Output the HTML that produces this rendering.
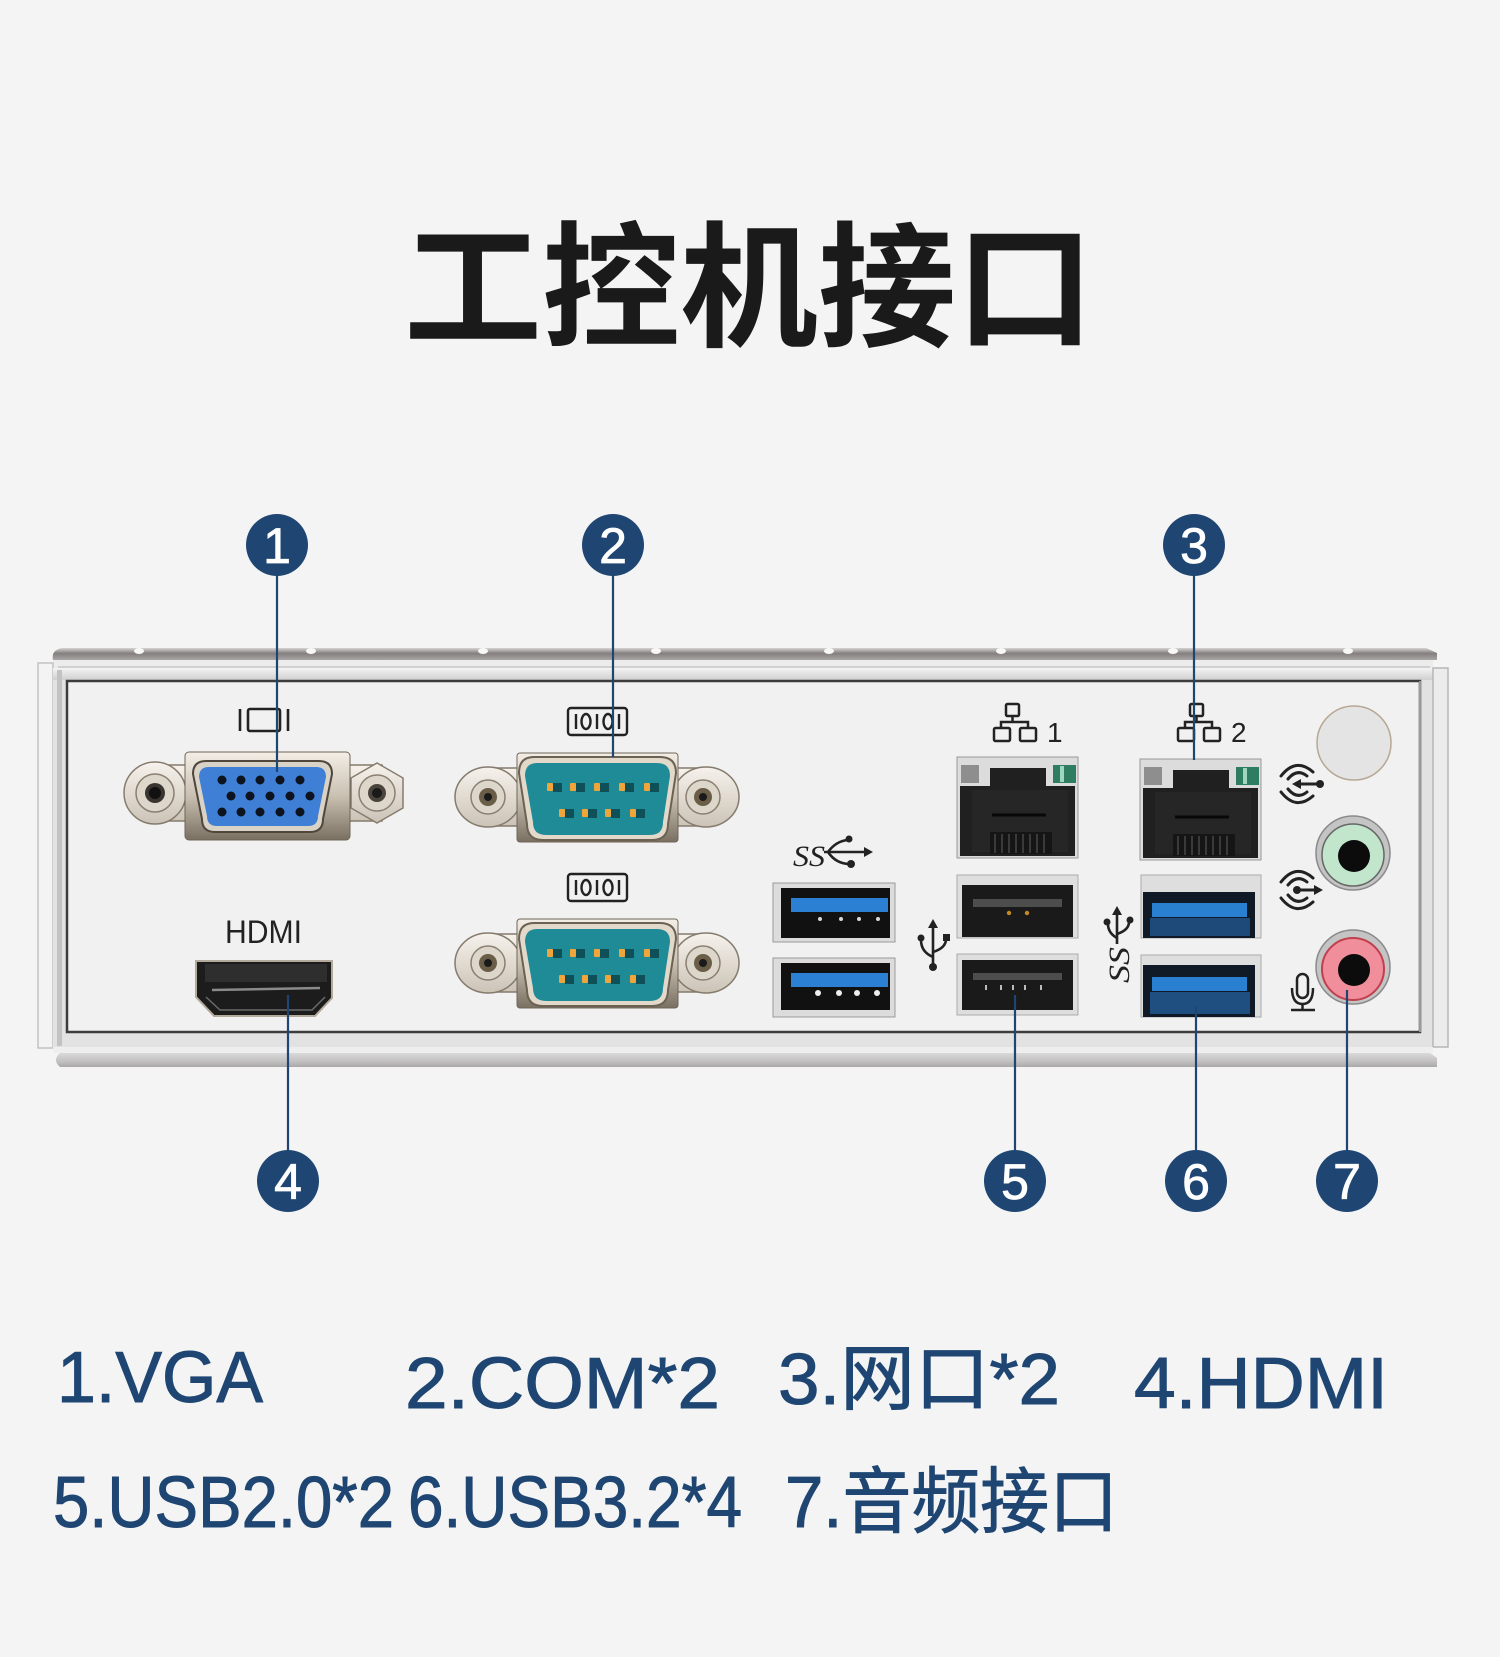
<!DOCTYPE html>
<html><head><meta charset="utf-8"><style>
html,body{margin:0;padding:0;background:#f4f4f4}
svg{display:block}
</style></head><body>
<svg width="1500" height="1657" viewBox="0 0 1500 1657" xmlns="http://www.w3.org/2000/svg">
<defs>
<linearGradient id="rail" x1="0" y1="0" x2="0" y2="1"><stop offset="0" stop-color="#d6d3d3"/><stop offset="0.45" stop-color="#847f7f"/><stop offset="1" stop-color="#aaa6a6"/></linearGradient>
<linearGradient id="brail" x1="0" y1="0" x2="0" y2="1"><stop offset="0" stop-color="#d9d9d9"/><stop offset="0.6" stop-color="#c2c0c0"/><stop offset="1" stop-color="#aaa8a8"/></linearGradient>
<linearGradient id="ftop" x1="0" y1="0" x2="0" y2="1"><stop offset="0" stop-color="#f4f4f4"/><stop offset="1" stop-color="#cfcfcf"/></linearGradient>
<linearGradient id="chrome" x1="0" y1="0" x2="0" y2="1"><stop offset="0" stop-color="#f3eee6"/><stop offset="0.5" stop-color="#c9c0b2"/><stop offset="1" stop-color="#7a7062"/></linearGradient>
<linearGradient id="ear" x1="0" y1="0" x2="0" y2="1"><stop offset="0" stop-color="#f6f2ec"/><stop offset="1" stop-color="#cbc3b6"/></linearGradient>
</defs>
<rect width="1500" height="1657" fill="#f4f4f4"/>

<!-- Title -->
<text x="404" y="336" font-family="'Liberation Sans','Noto Sans CJK SC',sans-serif" font-weight="700" font-size="136" fill="#1a1a1a" textLength="690" lengthAdjust="spacingAndGlyphs">工控机接口</text>

<!-- Panel -->
<path d="M62,648 L1426,648 L1437,653 L1437,660 L53,660 Q51,650 62,648 Z" fill="url(#rail)"/>
<g fill="#f8f8f8">
<ellipse cx="139" cy="651" rx="5" ry="3"/><ellipse cx="311" cy="651" rx="5" ry="3"/><ellipse cx="483" cy="651" rx="5" ry="3"/><ellipse cx="656" cy="651" rx="5" ry="3"/><ellipse cx="829" cy="651" rx="5" ry="3"/><ellipse cx="1001" cy="651" rx="5" ry="3"/><ellipse cx="1173" cy="651" rx="5" ry="3"/><ellipse cx="1348" cy="651" rx="5" ry="3"/>
</g>
<rect x="53" y="660" width="1380" height="8" fill="#ececec"/>
<line x1="58" y1="667" x2="1430" y2="667" stroke="#c6c6c6" stroke-width="1.5"/>
<rect x="38" y="663" width="15" height="385" fill="#f3f3f3" stroke="#c2c2c2" stroke-width="1.5"/>
<rect x="53" y="668" width="1380" height="380" fill="#e2e2e2"/>
<rect x="53" y="668" width="1380" height="12" fill="url(#ftop)"/>
<rect x="57" y="670" width="5" height="376" fill="#c2c2c2"/>
<rect x="67" y="681" width="1353" height="351" fill="#f1f1f1" stroke="#3c3c3c" stroke-width="2.5"/>
<line x1="1420" y1="681" x2="1420" y2="1032" stroke="#9a9a9a" stroke-width="2"/>
<rect x="1433" y="668" width="15" height="379" fill="#ececec" stroke="#b6b6b6" stroke-width="1.5"/>
<rect x="53" y="1047" width="1380" height="6" fill="#eeeeee"/>
<path d="M60,1053 L1430,1053 L1437,1058 L1437,1067 L60,1067 Q52,1060 60,1053 Z" fill="url(#brail)"/>

<!-- VGA icon -->
<g stroke="#222" stroke-width="2.6" fill="none">
<line x1="240" y1="709" x2="240" y2="731"/><line x1="288" y1="709" x2="288" y2="731"/>
<rect x="248" y="709" width="32" height="22" rx="2"/>
</g>
<!-- VGA connector -->
<g>
<rect x="150" y="765" width="232" height="56" fill="url(#ear)" stroke="#857b6d" stroke-width="1.5"/>
<circle cx="155" cy="793" r="31" fill="url(#ear)" stroke="#857b6d" stroke-width="1.5"/>
<polygon points="377,763 403,778 403,808 377,823 351,808 351,778" fill="url(#ear)" stroke="#857b6d" stroke-width="1.5"/>
<circle cx="155" cy="793" r="19" fill="#ddd6ca" stroke="#8a7f70" stroke-width="1.5"/>
<circle cx="155" cy="793" r="10" fill="#3a342e"/><circle cx="155" cy="793" r="6" fill="#111"/>
<circle cx="377" cy="793" r="18" fill="#ddd6ca" stroke="#8a7f70" stroke-width="1.5"/>
<circle cx="377" cy="793" r="9" fill="#4a443c"/><circle cx="377" cy="793" r="5" fill="#1a1a1a"/>
<rect x="185" y="752" width="165" height="88" rx="4" fill="url(#chrome)" stroke="#6e6557" stroke-width="1"/>
<path d="M206,761 L319,761 Q332,761 332,774 L323,819 Q323,832 310,832 L215,832 Q202,832 202,819 L193,774 Q193,761 206,761 Z" fill="#d9d2c6" stroke="#4f473b" stroke-width="2"/>
<path d="M209,767 L316,767 Q326,767 326,777 L318,816 Q318,826 308,826 L217,826 Q207,826 207,816 L199,777 Q199,767 209,767 Z" fill="#3f80d6"/>
<g fill="#0d1420">
<circle cx="222" cy="780" r="4.5"/><circle cx="241" cy="780" r="4.5"/><circle cx="260" cy="780" r="4.5"/><circle cx="280" cy="780" r="4.5"/><circle cx="300" cy="780" r="4.5"/>
<circle cx="231" cy="796" r="4.5"/><circle cx="250" cy="796" r="4.5"/><circle cx="270" cy="796" r="4.5"/><circle cx="290" cy="796" r="4.5"/><circle cx="310" cy="796" r="4.5"/>
<circle cx="222" cy="812" r="4.5"/><circle cx="241" cy="812" r="4.5"/><circle cx="260" cy="812" r="4.5"/><circle cx="280" cy="812" r="4.5"/><circle cx="300" cy="812" r="4.5"/>
</g>
</g>

<!-- HDMI -->
<text x="225" y="943" font-family="'Liberation Sans',sans-serif" font-size="32" fill="#222" textLength="77" lengthAdjust="spacingAndGlyphs">HDMI</text>
<path d="M196,961 L332,961 L332,998 L315,1016 L214,1016 L196,997 Z" fill="#1c1c1c" stroke="#b3aa9b" stroke-width="2"/>
<rect x="205" y="964" width="122" height="18" fill="#2e2e2e"/>
<path d="M212,990 L320,988" stroke="#8a8a8a" stroke-width="2.5"/>
<path d="M206,997 L220,1010 L312,1010 L325,997" fill="none" stroke="#6a6a6a" stroke-width="1.5"/>

<!-- COM ports -->
<g id="com1">
<g stroke="#222" stroke-width="2.4" fill="none">
<rect x="568" y="708" width="59" height="27" rx="3"/>
<line x1="576" y1="714" x2="576" y2="729"/><ellipse cx="586" cy="721.5" rx="4.5" ry="7.5"/><line x1="597" y1="714" x2="597" y2="729"/><ellipse cx="608" cy="721.5" rx="4.5" ry="7.5"/><line x1="619" y1="714" x2="619" y2="729"/>
</g>
<rect x="485" y="768" width="225" height="58" fill="url(#ear)" stroke="#857b6d" stroke-width="1.5"/>
<ellipse cx="488" cy="797" rx="33" ry="30" fill="url(#ear)" stroke="#857b6d" stroke-width="1.5"/>
<ellipse cx="706" cy="797" rx="33" ry="30" fill="url(#ear)" stroke="#857b6d" stroke-width="1.5"/>
<circle cx="488" cy="797" r="17" fill="#ddd6ca" stroke="#8a7f70" stroke-width="1.5"/>
<circle cx="488" cy="797" r="9" fill="#6a5e48"/><circle cx="488" cy="797" r="4" fill="#1a1a1a"/>
<circle cx="703" cy="797" r="17" fill="#ddd6ca" stroke="#8a7f70" stroke-width="1.5"/>
<circle cx="703" cy="797" r="9" fill="#6a5e48"/><circle cx="703" cy="797" r="4" fill="#1a1a1a"/>
<rect x="517" y="753" width="161" height="89" rx="3" fill="url(#chrome)" stroke="#6e6557" stroke-width="1"/>
<path d="M534,757 L660,757 Q676,757 676,773 L668,824 Q668,840 652,840 L543,840 Q527,840 527,824 L519,773 Q519,757 534,757 Z" fill="#e2d9cb" stroke="#6b6254" stroke-width="2"/>
<path d="M537,763 L657,763 Q670,763 670,776 L663,822 Q663,835 650,835 L546,835 Q533,835 533,822 L525,776 Q525,763 537,763 Z" fill="#1f8b97"/>
<g fill="#0f4f57">
<rect x="553" y="783" width="9" height="9"/><rect x="576" y="783" width="9" height="9"/><rect x="600" y="783" width="9" height="9"/><rect x="625" y="783" width="9" height="9"/><rect x="650" y="783" width="9" height="9"/>
<rect x="565" y="809" width="9" height="9"/><rect x="588" y="809" width="9" height="9"/><rect x="611" y="809" width="9" height="9"/><rect x="636" y="809" width="9" height="9"/>
</g>
<g fill="#f0a53a">
<rect x="547" y="783" width="6" height="8" rx="1"/><rect x="570" y="783" width="6" height="8" rx="1"/><rect x="594" y="783" width="6" height="8" rx="1"/><rect x="619" y="783" width="6" height="8" rx="1"/><rect x="644" y="783" width="6" height="8" rx="1"/>
<rect x="559" y="809" width="6" height="8" rx="1"/><rect x="582" y="809" width="6" height="8" rx="1"/><rect x="605" y="809" width="6" height="8" rx="1"/><rect x="630" y="809" width="6" height="8" rx="1"/>
</g>
</g>
<use href="#com1" transform="translate(0,166)"/>

<!-- SS icon left -->
<text x="793" y="866" font-family="'Liberation Serif',serif" font-style="italic" font-size="30" fill="#222" textLength="32" lengthAdjust="spacingAndGlyphs">SS</text>
<g stroke="#222" stroke-width="2.6" fill="none">
<path d="M824,852 L866,852"/><path d="M828,852 Q836,841 848,840"/><path d="M828,852 Q836,864 850,864"/>
</g>
<polygon points="873,852 864,847 864,857" fill="#222"/>
<circle cx="849" cy="839" r="3.5" fill="#222"/><circle cx="851" cy="864" r="4" fill="#222"/>

<!-- USB3 left -->
<rect x="773" y="883" width="122" height="59" fill="#dcdcdc" stroke="#9a9a9a"/>
<rect x="781" y="888" width="109" height="50" fill="#111"/>
<rect x="791" y="898" width="97" height="14" fill="#2c80d3"/>
<g fill="#d8d8d8"><circle cx="820" cy="919" r="2"/><circle cx="841" cy="919" r="2"/><circle cx="859" cy="919" r="2"/><circle cx="878" cy="919" r="2"/></g>
<rect x="773" y="958" width="122" height="59" fill="#dcdcdc" stroke="#9a9a9a"/>
<rect x="781" y="963" width="109" height="47" fill="#111"/>
<rect x="791" y="973" width="97" height="14" fill="#2c80d3"/>
<g fill="#eee"><circle cx="818" cy="993" r="3"/><circle cx="839" cy="993" r="3"/><circle cx="857" cy="993" r="3"/><circle cx="877" cy="993" r="3"/></g>

<!-- USB trident -->
<g stroke="#222" stroke-width="2.6" fill="none">
<line x1="933" y1="926" x2="933" y2="964"/>
<path d="M933,957 Q921,952 921,940"/><path d="M933,952 Q946,948 946,939"/>
</g>
<polygon points="933,919 928,928 938,928" fill="#222"/>
<circle cx="933" cy="967" r="4" fill="#222"/><circle cx="921" cy="938" r="3.5" fill="#222"/><rect x="943" y="934" width="7" height="7" fill="#222"/>

<!-- LAN1 icon -->
<g stroke="#222" stroke-width="2.5" fill="none">
<rect x="1006" y="704" width="13" height="12" rx="1.5"/>
<line x1="1012.5" y1="716" x2="1012.5" y2="722"/>
<path d="M1001,728 L1001,722 L1028,722 L1028,728"/>
<rect x="994" y="728" width="16" height="13" rx="1.5"/><rect x="1020" y="728" width="16" height="13" rx="1.5"/>
</g>
<text x="1047" y="742" font-family="'Liberation Sans',sans-serif" font-size="28" fill="#222">1</text>
<!-- LAN2 icon -->
<g transform="translate(184,0)">
<g stroke="#222" stroke-width="2.5" fill="none">
<rect x="1006" y="704" width="13" height="12" rx="1.5"/>
<line x1="1012.5" y1="716" x2="1012.5" y2="722"/>
<path d="M1001,728 L1001,722 L1028,722 L1028,728"/>
<rect x="994" y="728" width="16" height="13" rx="1.5"/><rect x="1020" y="728" width="16" height="13" rx="1.5"/>
</g>
<text x="1047" y="742" font-family="'Liberation Sans',sans-serif" font-size="28" fill="#222">2</text>
</g>

<!-- LAN ports -->
<g id="lan1">
<rect x="957" y="757" width="121" height="101" fill="#dcdcdc" stroke="#999"/>
<rect x="961" y="765" width="18" height="18" fill="#8e8e8e"/>
<rect x="1053" y="765" width="23" height="18" fill="#2e7d62"/><rect x="1060" y="766" width="4" height="16" fill="#9fd6c0"/>
<path d="M960,786 L990,786 L990,768 L1046,768 L1046,786 L1075,786 L1075,856 L960,856 Z" fill="#202020"/>
<rect x="972" y="790" width="96" height="62" fill="#262626"/>
<line x1="992" y1="815" x2="1046" y2="815" stroke="#080808" stroke-width="3"/>
<rect x="990" y="832" width="62" height="22" fill="#151515"/>
<g stroke="#3a3a3a" stroke-width="2">
<line x1="995" y1="834" x2="995" y2="853"/><line x1="1002" y1="834" x2="1002" y2="853"/><line x1="1009" y1="834" x2="1009" y2="853"/><line x1="1016" y1="834" x2="1016" y2="853"/><line x1="1023" y1="834" x2="1023" y2="853"/><line x1="1030" y1="834" x2="1030" y2="853"/><line x1="1037" y1="834" x2="1037" y2="853"/><line x1="1044" y1="834" x2="1044" y2="853"/>
</g>
</g>
<use href="#lan1" transform="translate(183,2)"/>

<!-- USB2 ports -->
<rect x="957" y="875" width="121" height="63" fill="#dedede" stroke="#aaa"/>
<rect x="962" y="885" width="111" height="52" fill="#1a1a1a"/>
<rect x="973" y="899" width="89" height="8" fill="#4d4d4d"/>
<circle cx="1009" cy="913" r="2.2" fill="#c58a25"/><circle cx="1027" cy="913" r="2.2" fill="#c58a25"/>
<rect x="957" y="954" width="121" height="61" fill="#dedede" stroke="#aaa"/>
<rect x="962" y="960" width="111" height="50" fill="#1a1a1a"/>
<rect x="973" y="973" width="89" height="7" fill="#4d4d4d"/>
<g fill="#bbb"><rect x="985" y="985" width="2" height="5"/><rect x="1000" y="985" width="2" height="5"/><rect x="1012" y="985" width="2" height="5"/><rect x="1024" y="985" width="2" height="5"/><rect x="1040" y="985" width="2" height="5"/></g>

<!-- USB3 right -->
<rect x="1141" y="875" width="120" height="63" fill="#dedede" stroke="#aaa"/>
<rect x="1143" y="892" width="112" height="46" fill="#0f1a26"/>
<rect x="1152" y="903" width="95" height="14" fill="#2a80d0"/>
<rect x="1150" y="918" width="100" height="18" fill="#1d4a78"/>
<rect x="1141" y="955" width="120" height="62" fill="#dedede" stroke="#aaa"/>
<rect x="1143" y="965" width="112" height="52" fill="#0f1a26"/>
<rect x="1152" y="977" width="95" height="14" fill="#2a80d0"/>
<rect x="1150" y="992" width="100" height="22" fill="#1e4f80"/>

<!-- SS vertical icon -->
<g stroke="#222" stroke-width="2.6" fill="none">
<line x1="1117" y1="912" x2="1117" y2="944"/>
<path d="M1117,938 Q1108,933 1108,924"/><path d="M1117,934 Q1129,930 1129,922"/>
</g>
<polygon points="1117,906 1112,915 1122,915" fill="#222"/>
<circle cx="1107" cy="922" r="3.5" fill="#222"/><circle cx="1130" cy="920" r="3.5" fill="#222"/>
<text transform="translate(1129,983) rotate(-90)" font-family="'Liberation Serif',serif" font-style="italic" font-size="30" fill="#222" textLength="36" lengthAdjust="spacingAndGlyphs">SS</text>

<!-- Audio -->
<circle cx="1354" cy="743" r="37" fill="#e4e4e4" stroke="#b7a793" stroke-width="1.5"/>
<circle cx="1353" cy="853" r="37" fill="#c4c4c4" stroke="#8a8a8a" stroke-width="1.5"/>
<circle cx="1353" cy="855" r="31" fill="#c2e6cb" stroke="#666" stroke-width="1.5"/>
<circle cx="1354" cy="856" r="16" fill="#0c0c0c"/>
<circle cx="1353" cy="967" r="37" fill="#c4c4c4" stroke="#8a8a8a" stroke-width="1.5"/>
<circle cx="1353" cy="969" r="31" fill="#f08e9c" stroke="#c0404e" stroke-width="2"/>
<circle cx="1354" cy="970" r="16" fill="#0c0c0c"/>
<g stroke="#222" stroke-width="3" fill="none" stroke-linecap="round">
<path d="M1281,776 Q1296,757 1313,772"/><path d="M1288,779 Q1297,768 1307,776"/>
<path d="M1281,792 Q1296,811 1313,796"/><path d="M1288,789 Q1297,800 1307,792"/>
<line x1="1298" y1="784" x2="1318" y2="784"/>
<path d="M1281,882 Q1296,863 1313,878"/><path d="M1288,885 Q1297,874 1307,882"/>
<path d="M1281,898 Q1296,917 1313,902"/><path d="M1288,895 Q1297,906 1307,898"/>
<line x1="1297" y1="890" x2="1316" y2="890"/>
</g>
<polygon points="1292,784 1301,779 1301,789" fill="#222"/><circle cx="1320" cy="784" r="4" fill="#222"/>
<polygon points="1323,890 1314,885 1314,895" fill="#222"/><circle cx="1297" cy="890" r="4" fill="#222"/>
<g stroke="#222" stroke-width="2.5" fill="none">
<rect x="1297" y="974" width="11" height="24" rx="5.5"/>
<path d="M1292,988 Q1292,1004 1302.5,1004 Q1313,1004 1313,988"/>
<line x1="1302.5" y1="1004" x2="1302.5" y2="1009"/>
<line x1="1291" y1="1010" x2="1315" y2="1010"/>
</g>

<!-- Callout lines -->
<g stroke="#1f4672" stroke-width="2.2">
<line x1="277" y1="570" x2="277" y2="772"/>
<line x1="613" y1="570" x2="613" y2="757"/>
<line x1="1194" y1="570" x2="1194" y2="760"/>
<line x1="288" y1="995" x2="288" y2="1155"/>
<line x1="1015" y1="995" x2="1015" y2="1155"/>
<line x1="1196" y1="1007" x2="1196" y2="1155"/>
<line x1="1347" y1="990" x2="1347" y2="1155"/>
</g>
<!-- Number circles -->
<g fill="#1f4672">
<circle cx="277" cy="545" r="31"/><circle cx="613" cy="545" r="31"/><circle cx="1194" cy="545" r="31"/>
<circle cx="288" cy="1181" r="31"/><circle cx="1015" cy="1181" r="31"/><circle cx="1196" cy="1181" r="31"/><circle cx="1347" cy="1181" r="31"/>
</g>
<g fill="#fff" stroke="#fff" stroke-width="0.8" font-family="'Liberation Sans',sans-serif" font-size="50" text-anchor="middle">
<text x="277" y="563">1</text><text x="613" y="563">2</text><text x="1194" y="563">3</text>
<text x="288" y="1199">4</text><text x="1015" y="1199">5</text><text x="1196" y="1199">6</text><text x="1347" y="1199">7</text>
</g>

<!-- Legend -->
<g fill="#1f4672" stroke="#1f4672" stroke-width="1" font-family="'Liberation Sans','Noto Sans CJK SC',sans-serif" font-size="72">
<text x="57" y="1402" textLength="206" lengthAdjust="spacingAndGlyphs">1.VGA</text>
<text x="405" y="1408" textLength="315" lengthAdjust="spacingAndGlyphs">2.COM*2</text>
<text x="778" y="1404" textLength="282" lengthAdjust="spacingAndGlyphs">3.网口*2</text>
<text x="1134" y="1408" textLength="254" lengthAdjust="spacingAndGlyphs">4.HDMI</text>
<text x="53" y="1527" textLength="341" lengthAdjust="spacingAndGlyphs">5.USB2.0*2</text>
<text x="408" y="1527" textLength="334" lengthAdjust="spacingAndGlyphs">6.USB3.2*4</text>
<text x="785" y="1527" textLength="333" lengthAdjust="spacingAndGlyphs">7.音频接口</text>
</g>
</svg>
</body></html>
